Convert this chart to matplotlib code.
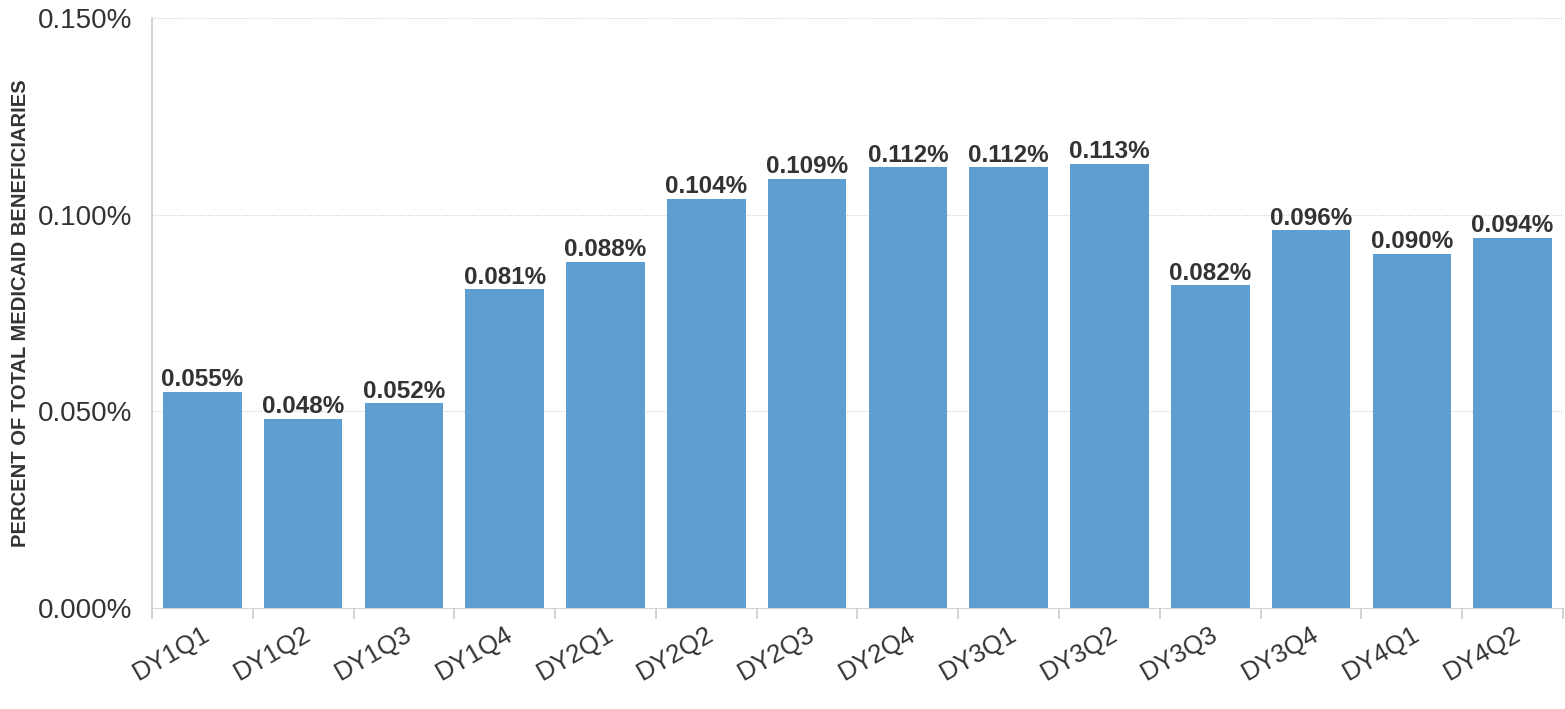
import matplotlib.pyplot as plt
import numpy as np
from matplotlib.ticker import FuncFormatter

plt.rcParams["font.family"] = ["Liberation Sans", "DejaVu Sans"]

quarters = ["DY1Q1", "DY1Q2", "DY1Q3", "DY1Q4", "DY2Q1", "DY2Q2", "DY2Q3",
            "DY2Q4", "DY3Q1", "DY3Q2", "DY3Q3", "DY3Q4", "DY4Q1", "DY4Q2"]
pct_values = [0.055, 0.048, 0.052, 0.081, 0.088, 0.104, 0.109,
              0.112, 0.112, 0.113, 0.082, 0.096, 0.090, 0.094]
y_ticks = [0.0, 0.05, 0.10, 0.15]

BAR_COLOR = "#5e9ed1"
TEXT_COLOR = "#333333"
GRID_COLOR = "#cccccc"

fig = plt.figure(figsize=(15.65, 7.09), dpi=100)
ax = fig.add_axes([152 / 1565, 1 - 608 / 709, (1563 - 152) / 1565, (608 - 18) / 709])

x = np.arange(len(quarters))
bars = ax.bar(x, pct_values, width=0.78, color=BAR_COLOR, zorder=3)

for bar, val in zip(bars, pct_values):
    ax.text(bar.get_x() + bar.get_width() / 2, bar.get_height() + 0.0002,
            f"{val:.3f}%", ha="center", va="bottom", fontsize=17.5,
            fontweight="bold", color=TEXT_COLOR)

ax.set_xlim(-0.5, len(quarters) - 0.5)
ax.set_ylim(0, 0.15)
ax.set_yticks(y_ticks)
ax.yaxis.set_major_formatter(FuncFormatter(lambda v, _: f"{v:.3f}%"))
ax.tick_params(axis="y", length=0, pad=14, labelsize=20, labelcolor=TEXT_COLOR)

ax.set_xticks(x)
ax.set_xticklabels(quarters, rotation=30, ha="right", rotation_mode="anchor")
ax.tick_params(axis="x", which="major", length=0, pad=10, labelsize=18.5,
               labelcolor=TEXT_COLOR)
ax.set_xticks(np.arange(-0.5, len(quarters)), minor=True)
ax.tick_params(axis="x", which="minor", length=8, width=1.2, color=GRID_COLOR)

ax.grid(axis="y", linestyle=(0, (1, 1.5)), color=GRID_COLOR, linewidth=0.8, zorder=0)
for side in ["top", "right"]:
    ax.spines[side].set_visible(False)
ax.spines["left"].set_color(GRID_COLOR)
ax.spines["left"].set_linewidth(1.2)
ax.spines["bottom"].set_color(GRID_COLOR)
ax.spines["bottom"].set_linestyle((0, (1, 1.5)))
ax.spines["bottom"].set_linewidth(0.8)

fig.text(21 / 1565, 1 - 313 / 709, "PERCENT OF TOTAL MEDICAID BENEFICIARIES",
         rotation=90, ha="center", va="center", fontsize=14.5,
         fontweight="bold", color=TEXT_COLOR)

fig.savefig("out.png", dpi=100)
